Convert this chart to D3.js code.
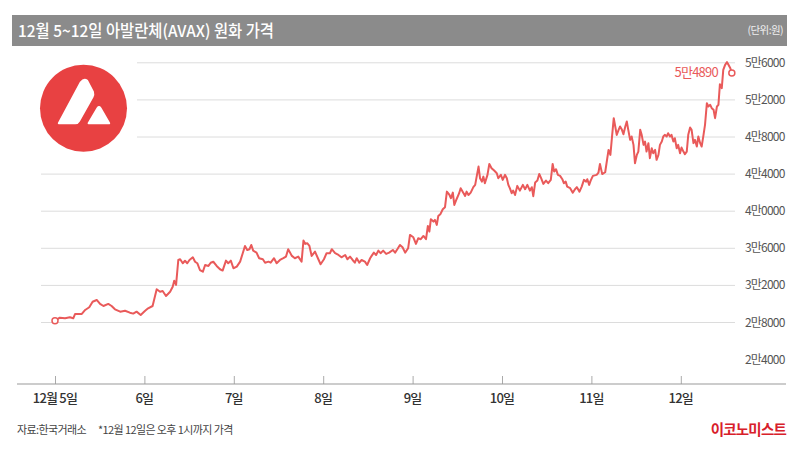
<!DOCTYPE html>
<html><head><meta charset="utf-8">
<script src="https://cdn.jsdelivr.net/npm/d3@7"></script>
<style>
html,body{margin:0;padding:0;background:#fff;}
svg text{font-family:"Noto Sans CJK KR","Noto Sans",sans-serif;}
</style></head>
<body>
<svg id="chart" width="800" height="450"></svg>
<script>
// ---- data ----
const titleText = "12월 5~12일 아발란체(AVAX) 원화 가격";
const unitText = "(단위:원)";
const sourceText = "자료:한국거래소";
const noteText = "*12월 12일은 오후 1시까지 가격";
const brandText = "이코노미스트";
const dayLabels = ["12월 5일","6일","7일","8일","9일","10일","11일","12일"];
const yTicks = [24000,28000,32000,36000,40000,44000,48000,52000,56000];
const yTickLabels = ["2만4000","2만8000","3만2000","3만6000","4만0000","4만4000","4만8000","5만2000","5만6000"];
const lastLabel = "5만4890";
// hours since 12/5 00:00
const hours = [0,1.3,2.7,4.0,4.9,5.4,7.2,8.1,9.2,10.1,11.2,12.1,13.0,14.3,15.2,16.1,17.5,18.8,20.1,21.0,21.9,23.0,24.2,25.0,26.2,27.3,28.2,28.9,29.8,30.9,31.6,32.0,32.5,33.1,33.6,34.3,34.9,35.5,36.1,37.0,37.6,38.2,38.9,39.7,40.3,41.2,41.8,42.5,43.4,44.3,45.0,45.9,46.5,47.2,47.9,
48.8,49.7,50.4,51.0,51.6,52.2,52.7,53.2,54.1,54.8,55.8,56.4,57.3,57.9,58.8,59.5,60.4,61.3,62.0,62.6,63.6,64.4,65.3,66.2,66.7,67.2,67.7,68.3,68.9,69.8,70.7,71.3,72.2,72.9,73.8,74.3,75.2,76.1,76.9,77.9,78.5,79.2,79.9,80.5,81.0,81.7,82.3,83.2,83.8,84.6,85.0,85.6,86.2,86.8,87.4,88.1,88.9,89.7,90.7,91.3,91.9,92.6,
93.3,94.0,94.8,95.3,96.2,96.9,97.5,98.2,98.9,99.6,100.1,100.5,100.9,101.6,102.0,102.5,102.9,103.5,104.1,104.7,105.2,105.9,106.3,106.8,107.2,107.8,108.5,108.9,109.6,110.1,110.5,111.0,111.6,112.3,112.8,113.2,113.7,114.1,114.6,115.0,115.4,116.1,116.6,117.2,117.9,118.6,119.0,119.7,120.2,120.8,121.3,121.7,122.1,122.6,123.0,123.5,124.1,124.8,125.6,126.2,126.8,127.5,128.0,128.4,128.9,129.5,130.0,130.5,131.1,131.8,132.4,133.1,133.6,134.0,134.5,135.0,135.6,136.2,136.6,137.1,137.5,138.3,139.0,139.6,140.1,140.8,141.4,142.0,142.6,142.9,143.4,143.8,144.4,145.4,145.9,146.3,146.9,147.7,148.6,149.1,149.5,150.0,
150.4,150.8,151.3,151.7,152.2,152.6,153.1,153.5,153.9,154.4,154.8,155.3,155.7,156.2,156.6,157.1,157.5,158.0,158.4,158.8,159.3,159.7,160.2,160.6,161.1,161.5,162.0,162.4,162.9,163.3,163.7,164.2,164.6,165.1,165.5,166.0,166.4,166.9,167.3,167.8,168.2,168.7,169.1,169.6,170.0,170.5,170.9,171.4,171.8,172.3,172.7,173.2,173.6,174.1,174.5,175.0,175.4,175.9,176.3,176.8,177.2,177.7,178.1,178.5,179.0,179.4,179.9,180.4,180.8,181.3,181.7];
const prices = [28200,28520,28450,28560,28450,28920,28920,29350,29640,30240,30430,30000,29780,30000,29780,29420,29170,29270,29060,28960,29170,28810,29270,29530,29780,31580,31320,31400,30860,31320,31860,32510,32050,34740,34820,34390,34660,34390,34740,35030,34550,34390,33660,33480,34200,34100,34440,34550,34100,33740,33600,34670,34390,34670,33850,
34020,34560,35470,36250,35820,35900,36360,35750,35530,34930,34820,34450,34560,34450,34930,34390,34740,34930,35100,35900,35180,34930,35100,34560,36830,36470,36550,36250,35180,35640,34820,34280,34820,35470,35470,35900,35470,35280,35030,35280,34820,35100,34740,34450,34930,34450,34740,34560,34200,34930,35180,35530,35280,35750,35470,35750,35390,35530,35820,35530,35900,36360,
36110,35530,36000,37440,37190,36470,37080,36980,37330,36980,38410,37800,39140,38880,39060,38520,39490,39710,40210,40430,42110,41750,41400,42000,40680,41290,41940,42480,42000,41650,42110,41750,42000,42590,42840,43730,44810,43560,43190,43730,43020,43920,45100,44640,44380,44100,43560,43920,43380,43920,43560,42840,42480,41940,42220,41750,42730,42220,42840,42370,42840,42220,42590,41620,43090,43300,44020,43560,42940,43300,43020,43380,45100,44270,44530,43920,43810,43450,43020,43190,42650,42480,42000,42370,42590,42110,42650,43380,43190,43450,42840,43300,43810,43920,44170,45100,44000,44200,46610,46070,47870,50030,
49130,48230,48770,49130,48770,48300,49130,49670,48770,47690,48050,47150,45170,46070,46430,48770,48230,47150,47510,46430,47330,45720,46790,46250,46610,45540,46070,47150,47510,48050,48230,48050,48410,48050,48230,47510,47870,46790,47150,46250,46860,46430,46150,46430,48230,49020,48770,47340,47690,46970,48050,47330,46970,48230,49310,51650,51290,51470,51110,50930,50030,51290,51470,53700,53270,55230,55780,56070,55780,55410,54890];

// ---- drawing ----
const svg = d3.select("#chart");
const red = "#e95a5a";

// title bar
svg.append("rect").attr("x",12).attr("y",15).attr("width",775).attr("height",31).attr("fill","#8b8b8b");
svg.append("text").attr("x",18).attr("y",36.5).attr("fill","#fff").attr("font-size",16.5).attr("font-weight",500)
  .attr("textLength",256).attr("lengthAdjust","spacingAndGlyphs").text(titleText);
svg.append("text").attr("x",783).attr("y",34).attr("fill","#eee").attr("font-size",10.5).attr("text-anchor","end")
  .attr("letter-spacing",-0.6).text(unitText);

const x = d3.scaleLinear().domain([0, 24*8]).range([55, 55 + 89.4*8]);
const y = d3.scaleLinear().domain([28000, 56000]).range([322.5, 62.8]);

// gridlines
svg.append("g").selectAll("line").data(yTicks.filter(v => v >= 28000)).join("line")
  .attr("x1",41).attr("x2",735).attr("y1",d=>y(d)).attr("y2",d=>y(d))
  .attr("stroke","#dcdcdc").attr("stroke-width",1);

// y labels
svg.append("g").selectAll("text").data(yTicks).join("text")
  .attr("x",745).attr("y",d=>y(d)+4).attr("font-size",12).attr("fill","#555")
  .attr("letter-spacing",-0.8).text((d,i)=>yTickLabels[i]);

// x axis
const xAxis = d3.axisTop(x).tickValues(d3.range(0, dayLabels.length*24, 24)).tickSize(8).tickFormat("");
const gx = svg.append("g").attr("transform","translate(0,384)").call(xAxis);
gx.select(".domain").remove();
gx.selectAll(".tick line").attr("stroke","#aaa");
svg.append("line").attr("x1",17).attr("x2",786).attr("y1",384).attr("y2",384).attr("stroke","#999").attr("stroke-width",1.2);
svg.append("g").selectAll("text").data(dayLabels).join("text")
  .attr("x",(d,i)=>x(i*24)).attr("y",403).attr("text-anchor","middle").attr("font-size",13)
  .attr("fill","#333").attr("font-weight",500).attr("letter-spacing",-0.8).text(d=>d);

// logo (white backing + Avalanche mark)
const logo = svg.append("g");
logo.append("rect").attr("x",30).attr("y",55).attr("width",107).attr("height",100).attr("fill","#fff");
logo.append("circle").attr("cx",83.5).attr("cy",108.3).attr("r",43.5).attr("fill","#e84142");
logo.append("path").attr("fill","#fff").attr("stroke","#fff").attr("stroke-width",2).attr("stroke-linejoin","round")
  .attr("d","M58.8,123.3 L80.8,82.3 Q83.8,78.5 87,80.5 L93,92 Q93.8,94.5 92.5,97 L79,121 Q77.8,123.3 75.2,123.3 Z");
logo.append("path").attr("fill","#fff").attr("stroke","#fff").attr("stroke-width",2).attr("stroke-linejoin","round")
  .attr("d","M88.6,123.3 L97.6,108 Q99,106 100.4,108 L109.2,123.3 Z");

// line
const pts = hours.map((h,i)=>[h, prices[i]]);
const line = d3.line().x(d=>x(d[0])).y(d=>y(d[1]));
svg.append("path").datum(pts).attr("d",line).attr("fill","none").attr("stroke",red)
  .attr("stroke-width",2).attr("stroke-linejoin","round");
const ends = [pts[0], pts[pts.length-1]];
svg.append("g").selectAll("circle").data(ends).join("circle")
  .attr("cx",d=>x(d[0])).attr("cy",d=>y(d[1])).attr("r",3).attr("fill","#fff")
  .attr("stroke",red).attr("stroke-width",1.5);
svg.append("text").attr("x",x(pts[pts.length-1][0])-14).attr("y",y(pts[pts.length-1][1])+4)
  .attr("text-anchor","end").attr("font-size",13).attr("fill",red).attr("letter-spacing",-0.8).text(lastLabel);

// footer
svg.append("text").attr("x",17).attr("y",434).attr("font-size",11).attr("fill","#444").attr("letter-spacing",-0.6).text(sourceText);
svg.append("text").attr("x",98).attr("y",434).attr("font-size",11).attr("fill","#444").attr("letter-spacing",-0.6).text(noteText);
svg.append("text").attr("x",786).attr("y",435).attr("text-anchor","end").attr("font-size",14.5).attr("font-weight",700)
  .attr("fill","#d8202a").attr("letter-spacing",-0.8).text(brandText);
</script>
</body></html>
